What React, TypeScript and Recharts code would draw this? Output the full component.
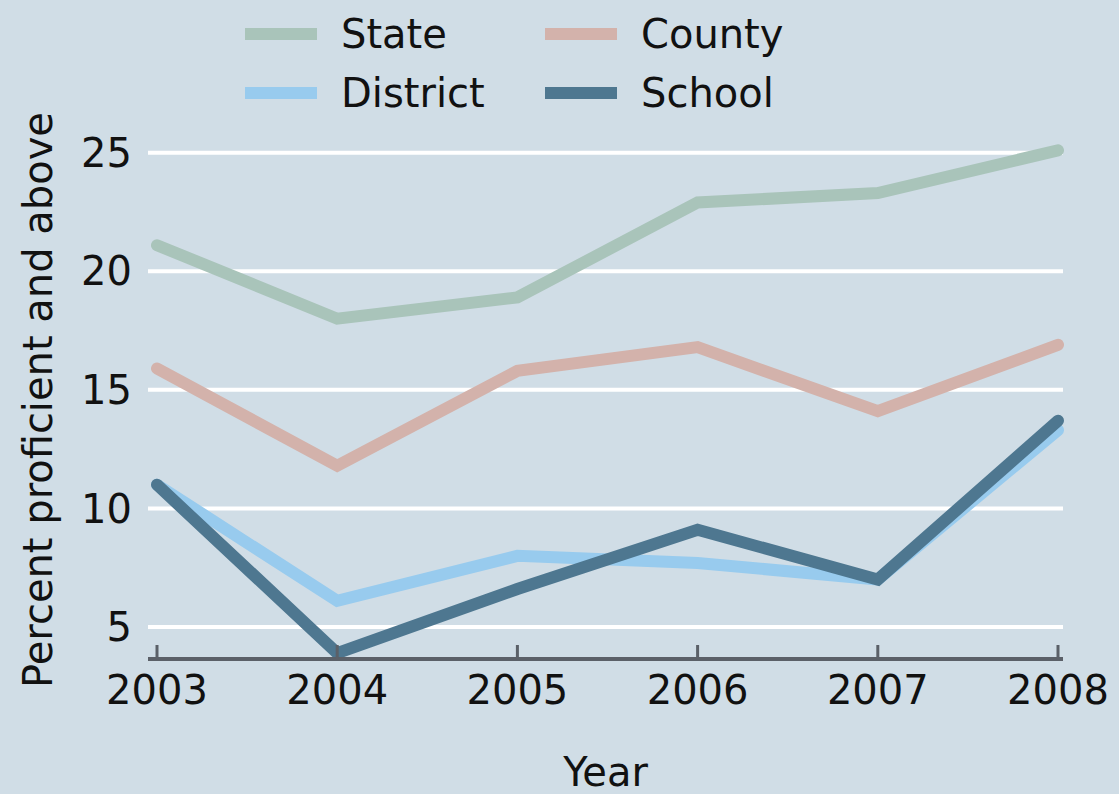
import { LineChart, Line, XAxis, YAxis, CartesianGrid, Legend } from 'recharts'

const years = ['2003', '2004', '2005', '2006', '2007', '2008']
const state = [21.1, 18.0, 18.9, 22.9, 23.3, 25.1]
const county = [15.9, 11.8, 15.8, 16.8, 14.1, 16.9]
const district = [11.0, 6.1, 8.0, 7.7, 7.0, 13.3]
const school = [11.0, 3.9, 6.6, 9.1, 7.0, 13.7]
const yTicks = [5, 10, 15, 20, 25]
const legendOrder = ['State', 'County', 'District', 'School']

const data = years.map((year, i) => ({
  year,
  State: state[i],
  County: county[i],
  District: district[i],
  School: school[i],
}))

const FONT = '"DejaVu Sans", sans-serif'
const TEXT = '#111'

const XTick = ({ x, y, payload }: any) => (
  <g>
    <line x1={x} x2={x} y1={y - 14} y2={y} stroke="#5b6068" strokeWidth={3} />
    <text x={x} y={y + 31} textAnchor="middle" dominantBaseline="central" fontSize={40} fontFamily={FONT} fill={TEXT}>
      {payload.value}
    </text>
  </g>
)

const LegendContent = ({ payload }: any) => {
  const items = [...(payload || [])].sort(
    (a: any, b: any) => legendOrder.indexOf(a.value) - legendOrder.indexOf(b.value)
  )
  return (
    <div
      style={{
        display: 'grid',
        gridTemplateColumns: '300px 300px',
        paddingLeft: 245,
        paddingTop: 4,
        fontFamily: FONT,
        fontSize: 40,
        color: TEXT,
      }}
    >
      {items.map((entry: any) => (
        <div key={entry.value} style={{ display: 'flex', alignItems: 'center', height: 59 }}>
          <span style={{ display: 'inline-block', width: 72, height: 12, background: entry.color, marginRight: 24 }} />
          <span>{entry.value}</span>
        </div>
      ))}
    </div>
  )
}

export default function App() {
  return (
    <div style={{ position: 'absolute', left: 0, top: 0, width: 1119, height: 794, background: '#d0dde6' }}>
      <LineChart width={1119} height={794} data={data} margin={{ top: 129, right: 56, bottom: 0, left: 0 }}>
        <CartesianGrid vertical={false} stroke="#ffffff" strokeWidth={4} syncWithTicks />
        <XAxis
          dataKey="year"
          height={135}
          padding={{ left: 9, right: 5 }}
          tickLine={false}
          tickSize={0}
          tickMargin={0}
          axisLine={{ stroke: '#5b6068', strokeWidth: 4 }}
          tick={<XTick />}
          interval={0}
          label={({ viewBox }: any) => (
            <text
              x={viewBox.x + viewBox.width / 2}
              y={772}
              textAnchor="middle"
              dominantBaseline="central"
              fontSize={40}
              fontFamily={FONT}
              fill={TEXT}
            >
              Year
            </text>
          )}
        />
        <YAxis
          width={148}
          domain={[3.65, 26]}
          ticks={yTicks}
          tickLine={false}
          axisLine={false}
          tickMargin={10}
          tick={{ fontSize: 40, fontFamily: FONT, fill: TEXT }}
          label={({ viewBox }: any) => {
            const cy = viewBox.y + viewBox.height / 2 + 6
            return (
              <text
                x={38}
                y={cy}
                transform={`rotate(-90 38 ${cy})`}
                textAnchor="middle"
                dominantBaseline="central"
                fontSize={40}
                fontFamily={FONT}
                fill={TEXT}
              >
                Percent proficient and above
              </text>
            )
          }}
        />
        <Legend
          layout="horizontal"
          verticalAlign="middle"
          align="center"
          wrapperStyle={{ top: 0, left: 0, width: 1119 }}
          content={<LegendContent />}
        />
        <Line dataKey="State" stroke="#a9c4ba" strokeWidth={12} dot={false} activeDot={false} strokeLinecap="round" isAnimationActive={false} />
        <Line dataKey="County" stroke="#d3b2ab" strokeWidth={12} dot={false} activeDot={false} strokeLinecap="round" isAnimationActive={false} />
        <Line dataKey="District" stroke="#98cbee" strokeWidth={12} dot={false} activeDot={false} strokeLinecap="round" isAnimationActive={false} />
        <Line dataKey="School" stroke="#4e7790" strokeWidth={12} dot={false} activeDot={false} strokeLinecap="round" isAnimationActive={false} />
      </LineChart>
    </div>
  )
}
